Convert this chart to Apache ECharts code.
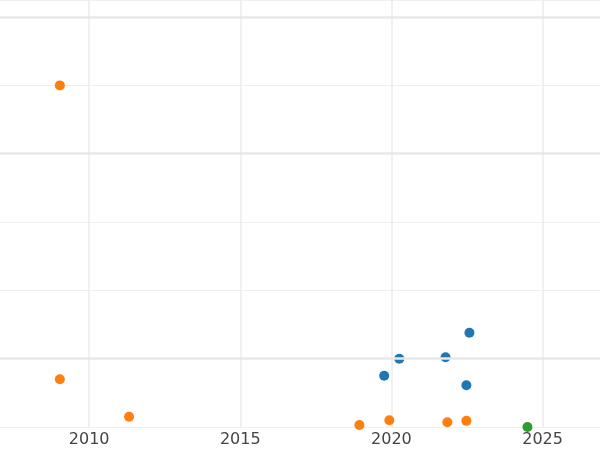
<!DOCTYPE html>
<html>
<head>
<meta charset="utf-8">
<script src="https://cdn.jsdelivr.net/npm/echarts@6/dist/echarts.min.js"></script>
<style>html,body{margin:0;padding:0;background:#fff}#chart{width:600px;height:450px}</style>
</head>
<body>
<div id="chart"></div>
<script>
const orangePts = [[2009.03, 5.0], [2009.03, 0.70], [2011.32, 0.15], [2018.94, 0.03], [2019.93, 0.10], [2021.85, 0.07], [2022.48, 0.09]];
const bluePts = [[2019.76, 0.75], [2020.26, 1.0], [2021.79, 1.02], [2022.48, 0.61], [2022.58, 1.38]];
const greenPts = [[2024.5, 0.0]];
const yearTicks = [2010, 2015, 2020, 2025];
const strongLines = [1, 4, 6];

const chart = echarts.init(document.getElementById('chart'));
const pt = (name, data, color) => ({
  name, type: 'scatter', data, symbolSize: 10, itemStyle: { color, opacity: 1 }, clip: false
});
chart.setOption({
  animation: false,
  grid: { left: 0, right: 0, top: 0, bottom: 23 },
  xAxis: {
    type: 'value', min: 2007.05, max: 2026.9,
    axisLine: { show: false },
    axisTick: { show: false, customValues: yearTicks },
    axisLabel: { customValues: yearTicks, formatter: v => String(v), color: '#444', fontSize: 16, fontFamily: 'DejaVu Sans', margin: 5 },
    splitLine: { lineStyle: { color: '#ebebeb', width: 1.5 } }
  },
  yAxis: {
    type: 'value', min: 0, max: 6.25, interval: 1,
    axisLine: { show: false }, axisTick: { show: false }, axisLabel: { show: false },
    splitLine: { lineStyle: { color: '#efefef', width: 1 } }
  },
  series: [
    Object.assign(pt('orange', orangePts, '#ff7f0e'), {
      markLine: {
        silent: true, symbol: 'none', label: { show: false },
        lineStyle: { color: '#e8e8e8', width: 2.5, type: 'solid' },
        data: strongLines.map(v => ({ yAxis: v }))
      }
    }),
    pt('blue', bluePts, '#1f77b4'),
    pt('green', greenPts, '#2ca02c')
  ]
});
</script>
</body>
</html>
